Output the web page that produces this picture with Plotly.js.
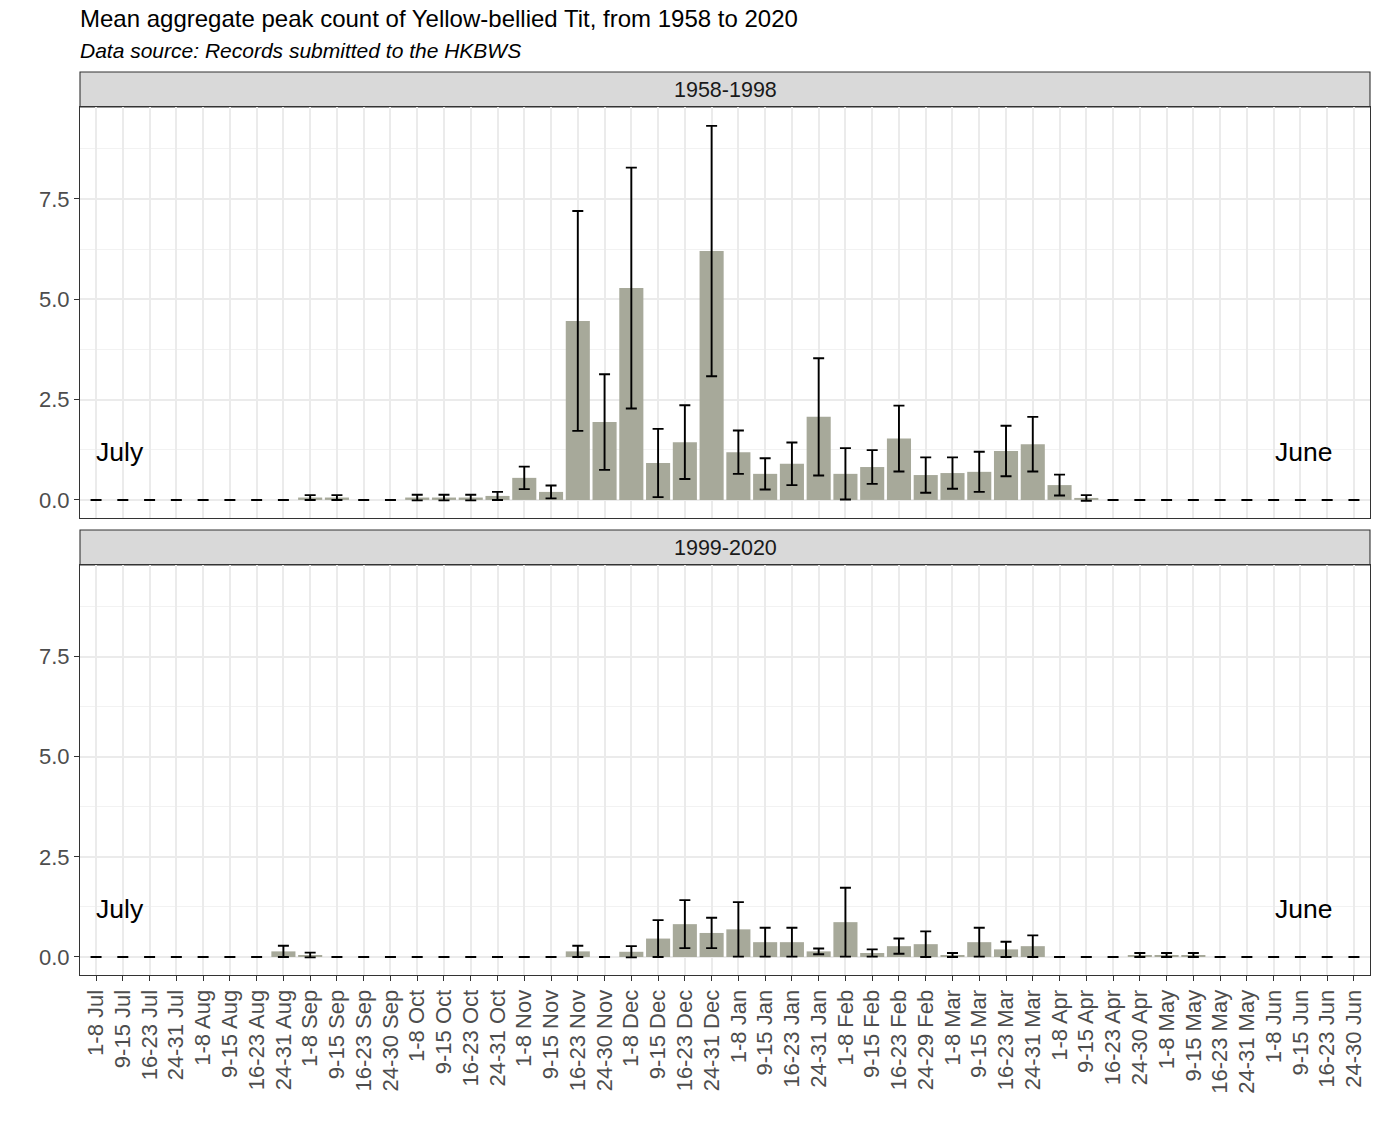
<!DOCTYPE html>
<html>
<head>
<meta charset="utf-8">
<script src="https://cdn.plot.ly/plotly-3.0.1.min.js"></script>
<style>html,body{margin:0;padding:0;background:#ffffff;}</style>
</head>
<body>
<div id="chart" style="width:1380px;height:1129px;"></div>
<script>
// ---- data ----
const weeks = [
  "1-8 Jul","9-15 Jul","16-23 Jul","24-31 Jul",
  "1-8 Aug","9-15 Aug","16-23 Aug","24-31 Aug",
  "1-8 Sep","9-15 Sep","16-23 Sep","24-30 Sep",
  "1-8 Oct","9-15 Oct","16-23 Oct","24-31 Oct",
  "1-8 Nov","9-15 Nov","16-23 Nov","24-30 Nov",
  "1-8 Dec","9-15 Dec","16-23 Dec","24-31 Dec",
  "1-8 Jan","9-15 Jan","16-23 Jan","24-31 Jan",
  "1-8 Feb","9-15 Feb","16-23 Feb","24-29 Feb",
  "1-8 Mar","9-15 Mar","16-23 Mar","24-31 Mar",
  "1-8 Apr","9-15 Apr","16-23 Apr","24-30 Apr",
  "1-8 May","9-15 May","16-23 May","24-31 May",
  "1-8 Jun","9-15 Jun","16-23 Jun","24-30 Jun"
];

// 1958-1998 mean and standard error
const mean1958 = [
  0, 0, 0, 0,
  0, 0, 0, 0,
  0.06, 0.06, 0, 0,
  0.06, 0.06, 0.06, 0.10,
  0.55, 0.20, 4.46, 1.94,
  5.28, 0.92, 1.44, 6.20,
  1.19, 0.65, 0.90, 2.07,
  0.65, 0.82, 1.53, 0.62,
  0.67, 0.70, 1.22, 1.39,
  0.37, 0.05, 0, 0,
  0, 0, 0, 0,
  0, 0, 0, 0
];
const se1958 = [
  0, 0, 0, 0,
  0, 0, 0, 0,
  0.06, 0.06, 0, 0,
  0.07, 0.07, 0.07, 0.10,
  0.28, 0.16, 2.74, 1.19,
  3.00, 0.85, 0.92, 3.12,
  0.54, 0.39, 0.53, 1.46,
  0.64, 0.42, 0.82, 0.44,
  0.39, 0.50, 0.63, 0.68,
  0.26, 0.07, 0, 0,
  0, 0, 0, 0,
  0, 0, 0, 0
];

// 1999-2020 mean and standard error
const mean1999 = [
  0, 0, 0, 0,
  0, 0, 0, 0.14,
  0.05, 0, 0, 0,
  0, 0, 0, 0,
  0, 0, 0.14, 0,
  0.13, 0.46, 0.82, 0.60,
  0.69, 0.37, 0.37, 0.14,
  0.87, 0.10, 0.27, 0.32,
  0.05, 0.37, 0.19, 0.27,
  0, 0, 0, 0.05,
  0.05, 0.05, 0, 0,
  0, 0, 0, 0
];
const se1999 = [
  0, 0, 0, 0,
  0, 0, 0, 0.14,
  0.06, 0, 0, 0,
  0, 0, 0, 0,
  0, 0, 0.14, 0,
  0.14, 0.46, 0.60, 0.38,
  0.68, 0.36, 0.36, 0.07,
  0.86, 0.09, 0.19, 0.32,
  0.05, 0.36, 0.19, 0.27,
  0, 0, 0, 0.05,
  0.05, 0.05, 0, 0,
  0, 0, 0, 0
];

const panelLabels = ["1958-1998", "1999-2020"];
const startLabel = "July";
const endLabel = "June";
const titleText = "Mean aggregate peak count of Yellow-bellied Tit, from 1958 to 2020";
const subtitleText = "Data source: Records submitted to the HKBWS";

// ---- styling ----
const FONT = "Liberation Sans, Arial, Helvetica, sans-serif";
const barColor = "#A7A99A";
const gridColor = "#EBEBEB";
const borderColor = "#333333";
const tickColor = "#4D4D4D";

// panel geometry (paper fractions)
const panelBottom = [0, 0.45404];
const stripBottom = [0.45404, 0.49280];
const panelTop = [0.50609, 0.96124];
const stripTop = [0.96124, 1.0];

function barTrace(vals, errs, xa, ya) {
  return {
    type: "bar",
    x: weeks,
    y: vals,
    xaxis: xa,
    yaxis: ya,
    marker: { color: barColor, line: { width: 0 } },
    error_y: {
      type: "data",
      array: errs,
      symmetric: true,
      visible: true,
      color: "#000000",
      thickness: 1.9,
      width: 5.5
    },
    hoverinfo: "x+y",
    showlegend: false
  };
}

const data = [
  barTrace(mean1958, se1958, "x2", "y2"),
  barTrace(mean1999, se1999, "x", "y")
];

const yCommon = {
  range: [-0.45, 9.79],
  tickmode: "linear",
  tick0: 0,
  dtick: 2.5,
  tickformat: ".1f",
  showgrid: true,
  gridcolor: gridColor,
  gridwidth: 1.6,
  minor: { tick0: 0, dtick: 1.25, showgrid: true, gridcolor: "#F2F2F2", gridwidth: 1, ticks: "" },
  zeroline: false,
  showline: true,
  linecolor: borderColor,
  linewidth: 1.1,
  mirror: true,
  ticks: "outside",
  ticklen: 5,
  tickwidth: 1.1,
  tickcolor: borderColor,
  tickfont: { family: FONT, size: 22, color: tickColor },
  fixedrange: true
};

const xCommon = {
  type: "category",
  categoryorder: "array",
  categoryarray: weeks,
  range: [-0.6, 47.6],
  showgrid: true,
  gridcolor: gridColor,
  gridwidth: 1.6,
  zeroline: false,
  showline: true,
  linecolor: borderColor,
  linewidth: 1.1,
  mirror: true,
  fixedrange: true
};

const layout = {
  width: 1380,
  height: 1129,
  margin: { l: 80, r: 10, t: 72, b: 154, pad: 0 },
  paper_bgcolor: "#ffffff",
  plot_bgcolor: "#ffffff",
  bargap: 0.1,
  showlegend: false,
  title: {
    text: titleText,
    xref: "container",
    yref: "container",
    x: 80 / 1380,
    xanchor: "left",
    y: 1 - 19 / 1129,
    yanchor: "middle",
    font: { family: FONT, size: 24, color: "#000000" }
  },
  xaxis: Object.assign({}, xCommon, {
    anchor: "y",
    domain: [0, 1],
    ticks: "outside",
    ticklen: 5,
    tickwidth: 1.1,
    tickcolor: borderColor,
    tickangle: -90,
    tickfont: { family: FONT, size: 22, color: tickColor },
    showticklabels: true
  }),
  xaxis2: Object.assign({}, xCommon, {
    anchor: "y2",
    domain: [0, 1],
    matches: "x",
    ticks: "",
    showticklabels: false
  }),
  yaxis: Object.assign({}, yCommon, { anchor: "x", domain: panelBottom }),
  yaxis2: Object.assign({}, yCommon, { anchor: "x2", domain: panelTop }),
  shapes: [
    { type: "rect", xref: "paper", yref: "paper", x0: 0, x1: 1, y0: stripTop[0], y1: stripTop[1],
      fillcolor: "#D9D9D9", line: { color: borderColor, width: 1.1 }, layer: "below" },
    { type: "rect", xref: "paper", yref: "paper", x0: 0, x1: 1, y0: stripBottom[0], y1: stripBottom[1],
      fillcolor: "#D9D9D9", line: { color: borderColor, width: 1.1 }, layer: "below" }
  ],
  annotations: [
    { xref: "paper", yref: "paper", x: 0, y: 1, xanchor: "left", yanchor: "middle", yshift: 22, xshift: -2,
      text: "<i>" + subtitleText + "</i>", showarrow: false,
      font: { family: FONT, size: 21, color: "#000000" } },
    { xref: "paper", yref: "paper", x: 0.5, y: (stripTop[0] + stripTop[1]) / 2, xanchor: "center", yanchor: "middle",
      text: panelLabels[0], showarrow: false, font: { family: FONT, size: 21.5, color: "#1A1A1A" } },
    { xref: "paper", yref: "paper", x: 0.5, y: (stripBottom[0] + stripBottom[1]) / 2, xanchor: "center", yanchor: "middle",
      text: panelLabels[1], showarrow: false, font: { family: FONT, size: 21.5, color: "#1A1A1A" } },
    { xref: "x2", yref: "y2", x: weeks[1], y: 1.2, text: startLabel, showarrow: false, xshift: -3,
      xanchor: "center", yanchor: "middle", font: { family: FONT, size: 26.5, color: "#000000" } },
    { xref: "x2", yref: "y2", x: weeks[45], y: 1.2, text: endLabel, showarrow: false, xshift: 3,
      xanchor: "center", yanchor: "middle", font: { family: FONT, size: 26.5, color: "#000000" } },
    { xref: "x", yref: "y", x: weeks[1], y: 1.2, text: startLabel, showarrow: false, xshift: -3,
      xanchor: "center", yanchor: "middle", font: { family: FONT, size: 26.5, color: "#000000" } },
    { xref: "x", yref: "y", x: weeks[45], y: 1.2, text: endLabel, showarrow: false, xshift: 3,
      xanchor: "center", yanchor: "middle", font: { family: FONT, size: 26.5, color: "#000000" } }
  ]
};

Plotly.newPlot("chart", data, layout, { displayModeBar: false, responsive: false });
</script>
</body>
</html>
